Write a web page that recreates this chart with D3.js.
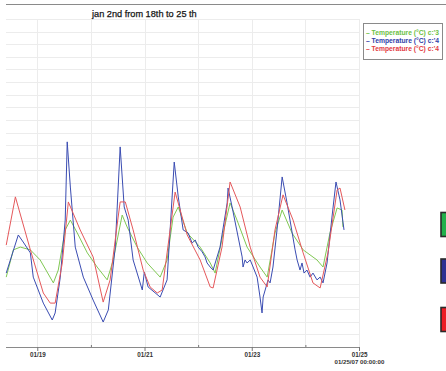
<!DOCTYPE html>
<html>
<head>
<meta charset="utf-8">
<script src="https://cdn.jsdelivr.net/npm/d3@7/dist/d3.min.js"></script>
<style>
  html, body { margin: 0; padding: 0; background: #fff; }
  svg { display: block; font-family: "Liberation Sans", Arial, sans-serif; }
</style>
</head>
<body>
<svg id="chart" width="446" height="371"></svg>
<script>
// Temperature logs, January 2007. Each point: [hours since 2007-01-18 00:00, °C]
const title = "jan 2nd from 18th to 25 th";
const seriesNames = ["Temperature (°C) c:'3", "Temperature (°C) c:'4", "Temperature (°C) c:'4"];
const seriesColors = ["#80c853", "#3a4cb2", "#e5585b"];
const legendColors = ["#6cbf45", "#2f40a8", "#e23a3f"];
const swatchColors = ["#22b04b", "#2e3192", "#ed1c24"];
const dayTickLabels = ["01/19", "01/21", "01/23", "01/25"];
const lastStamp = "01/25/07 00:00:00";

const greenC3 = [
  [10.1, 16.77], [13.3, 17.85], [16.4, 17.96], [20.9, 17.85], [25.3, 17.45], [31.2, 16.54],
  [33.4, 17.05], [36.5, 18.64], [38.8, 19.03], [41.9, 18.52], [46.4, 17.73], [50.8, 17.17],
  [55.3, 16.66], [58.0, 17.45], [62.0, 19.23], [64.2, 18.76], [68.7, 17.96], [73.2, 17.33],
  [79.0, 16.77], [82.1, 17.45], [84.8, 19.15], [87.1, 19.55], [91.1, 18.52], [96.9, 17.96],
  [101.4, 17.33], [103.6, 16.93], [107.2, 18.52], [110.3, 19.71], [113.4, 19.03], [117.9, 17.96],
  [123.7, 17.17], [126.9, 16.77], [130.4, 18.52], [133.6, 19.43], [138.0, 18.52], [143.0, 17.85],
  [149.2, 17.45], [151.9, 17.17], [155.0, 18.52], [158.2, 19.51], [160.4, 19.43], [160.8, 18.76]
];

const blueC4 = [
  [10.1, 16.93], [15.5, 18.44], [17.7, 18.16], [20.9, 17.73], [22.2, 16.77], [26.7, 15.74],
  [30.7, 15.07], [32.0, 15.35], [34.3, 16.77], [36.5, 19.03], [37.4, 22.13], [38.8, 20.34],
  [41.0, 17.96], [44.6, 16.77], [49.0, 15.86], [53.5, 14.99], [55.8, 15.47], [58.9, 17.96],
  [61.1, 21.93], [62.9, 19.55], [64.7, 19.03], [66.9, 17.45], [71.0, 16.26], [71.9, 16.97],
  [73.6, 16.38], [79.0, 15.98], [82.1, 16.66], [85.3, 21.33], [87.1, 19.95], [89.3, 18.64],
  [91.5, 18.52], [93.3, 18.12], [94.7, 18.24], [96.0, 17.96], [97.8, 17.77], [99.1, 17.57],
  [100.0, 17.33], [101.4, 17.17], [102.7, 17.05], [105.8, 17.96], [109.0, 19.71], [109.4, 20.30],
  [111.2, 19.55], [115.7, 17.57], [116.1, 17.17], [117.0, 17.45], [117.9, 17.33], [119.3, 17.45],
  [120.6, 17.17], [122.4, 16.77], [123.7, 15.98], [124.6, 15.35], [125.1, 15.98], [126.4, 16.38],
  [127.3, 16.66], [128.2, 16.54], [129.5, 17.17], [131.3, 18.64], [133.6, 20.74], [135.8, 19.71],
  [139.4, 17.85], [140.3, 17.45], [141.6, 17.05], [142.5, 17.33], [143.4, 16.93], [144.7, 17.05],
  [146.1, 16.77], [147.4, 16.93], [149.2, 16.66], [150.6, 16.77], [151.9, 16.54], [153.7, 17.33],
  [155.9, 19.15], [157.7, 20.54], [159.5, 19.83], [161.3, 18.64]
];

const redC4 = [
  [10.1, 18.04], [14.2, 19.95], [20.9, 17.85], [26.7, 16.14], [29.8, 15.74], [32.0, 15.74],
  [35.2, 17.33], [37.9, 19.75], [43.2, 18.64], [49.0, 17.57], [53.5, 15.78], [56.6, 16.66],
  [60.2, 19.15], [61.1, 19.75], [63.4, 19.75], [66.9, 18.64], [71.4, 17.05], [74.5, 16.38],
  [77.7, 16.14], [79.9, 16.26], [82.1, 17.73], [85.7, 20.14], [91.1, 18.44], [96.9, 17.45],
  [101.4, 16.38], [102.7, 16.34], [106.7, 17.96], [110.3, 20.54], [114.8, 19.55], [119.3, 17.96],
  [123.7, 16.77], [126.9, 16.38], [130.4, 18.64], [134.0, 20.03], [138.5, 19.03], [143.0, 17.73],
  [147.4, 16.54], [150.6, 16.34], [154.1, 17.73], [158.2, 20.22], [159.5, 20.30], [161.7, 19.43]
];

const series = [greenC3, blueC4, redC4];

const base = new Date(2007, 0, 18, 0, 0, 0);
const toDate = h => new Date(base.getTime() + h * 3600 * 1000);

const svg = d3.select("#chart");

const plot = { left: 6, right: 359, top: 19, bottom: 347 };

const x = d3.scaleTime()
  .domain([toDate(10), new Date(2007, 0, 25)])
  .range([plot.left, plot.right]);

const y = d3.scaleLinear()
  .domain([14, 27])
  .range([plot.bottom, plot.top]);

// frame line across the top
svg.append("line")
  .attr("x1", 6).attr("x2", 446).attr("y1", 4.5).attr("y2", 4.5)
  .attr("stroke", "#8a8a8a").attr("stroke-width", 1.2);

// grid
const grid = svg.append("g").attr("stroke", "#ececec").attr("stroke-width", 1);
grid.selectAll("line.h")
  .data(d3.range(14, 27.001, 0.5))
  .join("line")
  .attr("x1", plot.left).attr("x2", plot.right)
  .attr("y1", d => Math.round(y(d)) + 0.5).attr("y2", d => Math.round(y(d)) + 0.5);
const days = d3.timeDay.range(new Date(2007, 0, 19), new Date(2007, 0, 25, 1));
grid.selectAll("line.v")
  .data(days)
  .join("line")
  .attr("x1", d => Math.round(x(d)) + 0.5).attr("x2", d => Math.round(x(d)) + 0.5)
  .attr("y1", plot.top).attr("y2", plot.bottom);

// title
svg.append("text")
  .attr("x", 92).attr("y", 16.5)
  .attr("font-size", 9.2).attr("fill", "#151515")
  .attr("stroke", "#151515").attr("stroke-width", 0.25)
  .text(title);

// series lines
const line = d3.line()
  .x(d => x(toDate(d[0])))
  .y(d => y(d[1]));

svg.append("g")
  .selectAll("path")
  .data(series)
  .join("path")
  .attr("fill", "none")
  .attr("stroke", (d, i) => seriesColors[i])
  .attr("stroke-width", 1)
  .attr("stroke-linejoin", "round")
  .attr("d", line);

// x axis
const oddDayFmt = d3.timeFormat("%m/%d");
const xAxis = d3.axisBottom(x)
  .tickValues(days)
  .tickSize(4)
  .tickSizeOuter(0)
  .tickFormat(d => {
    const s = oddDayFmt(d);
    return dayTickLabels.includes(s) ? s : "";
  });

const ax = svg.append("g")
  .attr("transform", `translate(0,${plot.bottom})`)
  .call(xAxis);
ax.select(".domain").attr("stroke", "#8a8a8a").attr("stroke-width", 1.2)
  .attr("d", `M${plot.left},0.5H${plot.right}`);
ax.selectAll(".tick line")
  .attr("stroke", "#777")
  .attr("y1", d => dayTickLabels.includes(oddDayFmt(d)) ? 0 : -2)
  .attr("y2", d => dayTickLabels.includes(oddDayFmt(d)) ? 4 : 0);
ax.selectAll(".tick text")
  .attr("font-size", 6.3).attr("font-weight", "bold").attr("fill", "#333")
  .attr("font-family", "'Liberation Sans', Arial, sans-serif")
  .attr("dy", 0).attr("y", 9.8);
ax.selectAll(".tick")
  .filter(d => +d === +new Date(2007, 0, 25))
  .append("text")
  .attr("y", 17).attr("font-size", 6.1).attr("font-weight", "bold")
  .attr("fill", "#333").attr("text-anchor", "middle")
  .attr("font-family", "'Liberation Sans', Arial, sans-serif")
  .text(lastStamp);

// legend box
const legend = svg.append("g");
legend.append("rect")
  .attr("x", 363.5).attr("y", 23.5).attr("width", 79).attr("height", 36)
  .attr("fill", "#fff").attr("stroke", "#8a8a8a").attr("stroke-width", 1);
legend.selectAll("text")
  .data(seriesNames)
  .join("text")
  .attr("x", 366).attr("y", (d, i) => 34.5 + i * 8)
  .attr("font-size", 6.9)
  .attr("font-weight", "bold")
  .attr("textLength", 73)
  .attr("lengthAdjust", "spacingAndGlyphs")
  .attr("fill", (d, i) => legendColors[i])
  .text(d => "– " + d);

// colour swatches at the right edge
svg.append("g")
  .selectAll("rect")
  .data(swatchColors)
  .join("rect")
  .attr("x", 441).attr("y", (d, i) => [212.5, 259, 307.5][i])
  .attr("width", 10).attr("height", 24)
  .attr("fill", d => d)
  .attr("stroke", "#2a2a2a").attr("stroke-width", 1.6);
</script>
</body>
</html>
